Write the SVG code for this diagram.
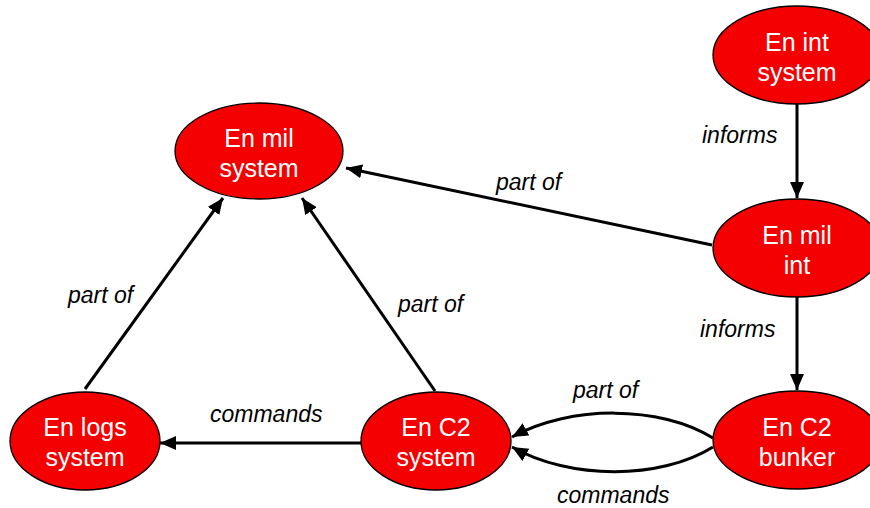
<svg xmlns="http://www.w3.org/2000/svg" width="870" height="508" viewBox="0 0 870 508">
<defs>
<marker id="ah" markerUnits="userSpaceOnUse" markerWidth="18" markerHeight="16" refX="16" refY="7" orient="auto">
<polygon points="0,0 16,7 0,14" fill="#000"/>
</marker>
<style>
.node ellipse{fill:#f50000;stroke:#000;stroke-width:1.3}
.node text{font-family:"Liberation Sans",Arial,sans-serif;font-size:25px;fill:#fff;text-anchor:middle}
.edge{fill:none;stroke:#000;stroke-width:3;marker-end:url(#ah)}
.lbl{font-family:"Liberation Sans",Arial,sans-serif;font-size:23px;font-style:italic;fill:#000}
</style>
</defs>
<rect width="870" height="508" fill="#fff"/>
<g id="connectors">
<line class="edge" x1="797" y1="104" x2="797" y2="198"/>
<line class="edge" x1="797" y1="297" x2="797" y2="390"/>
<line class="edge" x1="712" y1="245" x2="346" y2="168"/>
<line class="edge" x1="435" y1="391" x2="302" y2="198"/>
<line class="edge" x1="85" y1="389" x2="223" y2="198"/>
<line class="edge" x1="361" y1="443" x2="160" y2="443"/>
<path class="edge" d="M713,438 C660,405 570,405 512,437"/>
<path class="edge" d="M713,447 C660,480 570,480 512,447"/>
<text class="lbl" x="702" y="143">informs</text>
<text class="lbl" x="700" y="337">informs</text>
<text class="lbl" x="496" y="190">part of</text>
<text class="lbl" x="68" y="303">part of</text>
<text class="lbl" x="398" y="312">part of</text>
<text class="lbl" x="210" y="422">commands</text>
<text class="lbl" x="573" y="398">part of</text>
<text class="lbl" x="557" y="503">commands</text>
</g>
<g id="en-int-system" class="node">
<ellipse cx="797" cy="55" rx="84" ry="49"/>
<text x="797" y="51">En int</text>
<text x="797" y="81">system</text>
</g>
<g id="en-mil-int" class="node">
<ellipse cx="797" cy="248" rx="84" ry="49"/>
<text x="797" y="244">En mil</text>
<text x="797" y="274">int</text>
</g>
<g id="en-c2-bunker" class="node">
<ellipse cx="797" cy="440" rx="84" ry="49"/>
<text x="797" y="436">En C2</text>
<text x="797" y="466">bunker</text>
</g>
<g id="en-mil-system" class="node">
<ellipse cx="259" cy="151" rx="84" ry="48"/>
<text x="259" y="147">En mil</text>
<text x="259" y="177">system</text>
</g>
<g id="en-logs-system" class="node">
<ellipse cx="85" cy="441" rx="75" ry="49"/>
<text x="85" y="436">En logs</text>
<text x="85" y="466">system</text>
</g>
<g id="en-c2-system" class="node">
<ellipse cx="436" cy="441" rx="75" ry="49"/>
<text x="436" y="436">En C2</text>
<text x="436" y="466">system</text>
</g>
</svg>
